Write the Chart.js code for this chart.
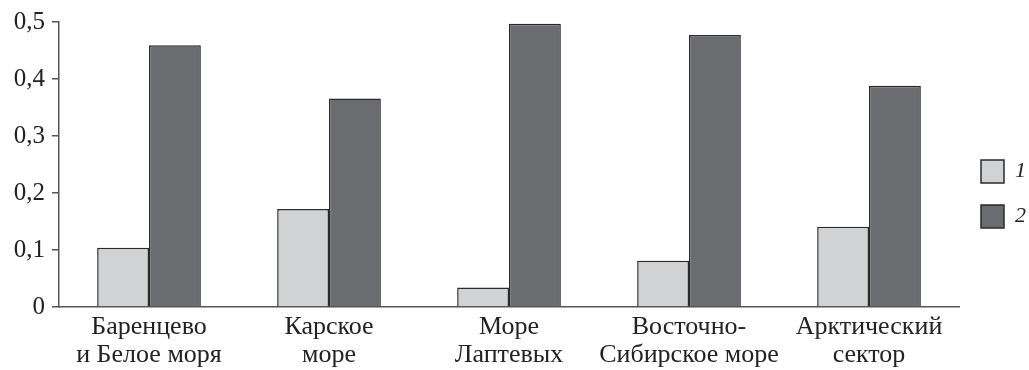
<!DOCTYPE html>
<html lang="ru">
<head>
    <meta charset="UTF-8">
    <script src="https://cdn.jsdelivr.net/npm/chart.js"></script>
    <title>Арктические моря</title>
    <style>
        body {
            margin: 0;
            background: #fff;
        }
        .wrap {
            width: 1029px;
            height: 370px;
        }
    </style>
</head>
<body>
    <div class="wrap">
        <canvas id="grafico"></canvas>
    </div>
    <script>
        // Подписи категорий (две строки)
        const categorias = [
            ['Баренцево', 'и Белое моря'],
            ['Карское', 'море'],
            ['Море', 'Лаптевых'],
            ['Восточно-', 'Сибирское море'],
            ['Арктический', 'сектор']
        ];
        const legenda = ['1', '2'];
        const serie1 = [0.104, 0.172, 0.034, 0.081, 0.141];
        const serie2 = [0.459, 0.366, 0.497, 0.477, 0.388];

        const fonte = '"Liberation Serif", "DejaVu Serif", serif';
        const corEixo = '#555';

        function desenhar() {
            Chart.defaults.font.family = fonte;
            Chart.defaults.color = '#222';

            const ctx = document.getElementById('grafico').getContext('2d');
            new Chart(ctx, {
                type: 'bar',
                data: {
                    labels: categorias,
                    datasets: [
                        {
                            label: legenda[0],
                            data: serie1,
                            backgroundColor: '#d1d2d4',
                            borderColor: '#2a2a2a',
                            borderWidth: 1.5,
                            borderSkipped: 'bottom'
                        },
                        {
                            label: legenda[1],
                            data: serie2,
                            backgroundColor: '#6b6c70',
                            borderColor: '#2a2a2a',
                            borderWidth: 1.5,
                            borderSkipped: 'bottom'
                        }
                    ]
                },
                options: {
                    responsive: true,
                    maintainAspectRatio: false,
                    animation: false,
                    layout: {
                        padding: { top: 18, right: -7, bottom: 0, left: 0 }
                    },
                    datasets: {
                        bar: {
                            categoryPercentage: 0.576,
                            barPercentage: 1
                        }
                    },
                    plugins: {
                        tooltip: { enabled: false },
                        legend: {
                            position: 'right',
                            labels: {
                                boxWidth: 23,
                                boxHeight: 23,
                                padding: 22,
                                color: '#222',
                                font: { family: fonte, size: 22, style: 'italic' }
                            }
                        }
                    },
                    scales: {
                        x: {
                            afterFit: (escala) => { escala.height = 63; },
                            grid: { display: false, drawTicks: false },
                            border: { color: corEixo, width: 1.5 },
                            ticks: {
                                color: '#222',
                                padding: 6,
                                maxRotation: 0,
                                autoSkip: false,
                                font: { family: fonte, size: 26, lineHeight: 1.08 }
                            }
                        },
                        y: {
                            min: 0,
                            max: 0.5,
                            afterFit: (escala) => { escala.width = 59; },
                            grid: {
                                drawOnChartArea: false,
                                drawTicks: true,
                                tickLength: 7,
                                color: corEixo,
                                lineWidth: 1.5
                            },
                            border: { color: corEixo, width: 1.5 },
                            ticks: {
                                stepSize: 0.1,
                                color: '#222',
                                padding: 7,
                                font: { family: fonte, size: 25 },
                                callback: (v) => v === 0 ? '0' : v.toFixed(1).replace('.', ',')
                            }
                        }
                    }
                }
            });
        }

        // garantir que a fonte serifada esteja carregada antes de desenhar
        Promise.all([
            document.fonts.load('25px "Liberation Serif"'),
            document.fonts.load('italic 22px "Liberation Serif"')
        ]).then(desenhar, desenhar);
    </script>
</body>
</html>
